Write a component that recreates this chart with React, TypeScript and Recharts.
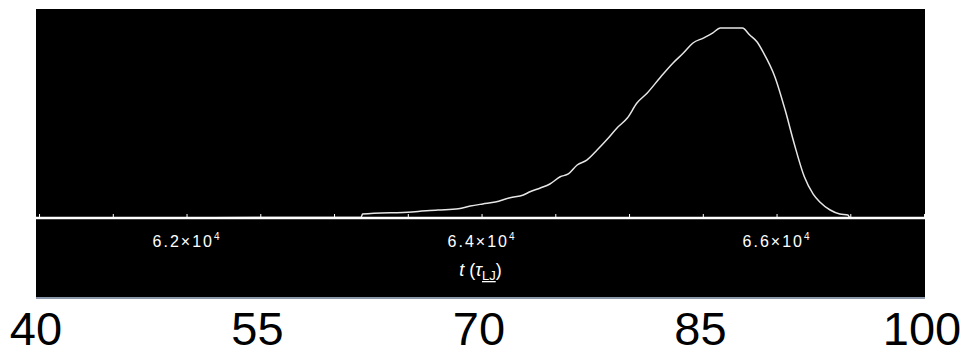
import React from 'react';
import { LineChart, Line, XAxis, YAxis } from 'recharts';

// time (tau_LJ) and normalised curve height
const TIMES = [
  61000, 63180, 63190, 63525, 63700, 63840, 63920, 64005, 64090, 64190,
  64280, 64325, 64395, 64460, 64530, 64585, 64645, 64710, 64780, 64850,
  64915, 64985, 65050, 65120, 65205, 65295, 65365, 65430, 65500, 65565,
  65615, 65765, 65815, 65865, 65905, 65985, 66055, 66115, 66185, 66245,
  66290, 66360, 66425, 66480, 66495, 67000,
];
const HEIGHTS = [
  0, 0.004, 0.021, 0.032, 0.042, 0.049, 0.063, 0.074, 0.084, 0.107,
  0.121, 0.138, 0.158, 0.179, 0.217, 0.232, 0.279, 0.305, 0.358, 0.416,
  0.474, 0.526, 0.605, 0.658, 0.737, 0.816, 0.868, 0.921, 0.947, 0.974,
  1.0, 1.0, 0.963, 0.926, 0.874, 0.744, 0.568, 0.395, 0.217, 0.126,
  0.084, 0.042, 0.021, 0.016, 0, 0,
];
const TIME_TICKS = [61000, 61500, 62000, 62500, 63000, 63500, 64000, 64500, 65000, 65500, 66000, 66500, 67000];
const PCT_TICKS = [40, 55, 70, 85, 100];

const data = TIMES.map((t, i) => ({ t, v: HEIGHTS[i] }));

const FONT = '"Liberation Sans", Arial, sans-serif';

function TimeTick(props: any) {
  const { x, y, payload } = props;
  const val = payload.value as number;
  if (val % 2000 !== 0) return null;
  return (
    <text x={x} y={y + 33} textAnchor="middle" fill="#fff" fontSize={16} fontFamily={FONT} letterSpacing={2}>
      {(val / 10000).toFixed(1)}×10
      <tspan dy={-7} fontSize={10}>4</tspan>
    </text>
  );
}

function TimeTitle(props: any) {
  const vb = props.viewBox || {};
  const cx = vb.x + vb.width / 2;
  return (
    <text x={cx} y={276} textAnchor="middle" fill="#fff" fontSize={18} fontFamily={FONT}>
      <tspan fontStyle="italic">t</tspan>
      <tspan> (</tspan>
      <tspan fontStyle="italic">τ</tspan>
      <tspan dy={4} fontSize={13} textDecoration="underline">LJ</tspan>
      <tspan dy={-4}>)</tspan>
    </text>
  );
}

export default function App() {
  return (
    <div style={{ position: 'absolute', left: 0, top: 0, width: 966, height: 356, background: '#fff' }}>
      <div style={{ position: 'absolute', left: 36, top: 9, width: 889, height: 289, background: '#000' }} />
      <div style={{ position: 'absolute', left: 0, top: 0 }}>
        <LineChart width={966} height={356} data={data} margin={{ top: 9, right: 41, left: 36, bottom: 0 }}>
          <XAxis
            xAxisId="b"
            dataKey="pct"
            type="number"
            domain={[40, 100]}
            allowDataOverflow
            ticks={PCT_TICKS}
            height={58}
            padding={{ left: 0, right: 3 }}
            axisLine={{ stroke: '#8b97ab', strokeWidth: 2 }}
            tickLine={false}
            tickSize={0}
            tickMargin={14}
            tick={{ fill: '#000', fontSize: 47, fontFamily: FONT }}
            interval={0}
          />
          <XAxis
            xAxisId="a"
            dataKey="t"
            type="number"
            domain={[60976, 67003]}
            allowDataOverflow
            ticks={TIME_TICKS}
            height={80}
            axisLine={{ stroke: '#fff', strokeWidth: 2.5 }}
            tickLine={{ stroke: '#fff', strokeWidth: 1 }}
            tickSize={-4}
            tickMargin={0}
            tick={<TimeTick />}
            label={(p: any) => <TimeTitle {...p} />}
          />
          <YAxis hide domain={[0, 1.1]} allowDataOverflow />
          <Line
            xAxisId="a"
            dataKey="v"
            type="monotone"
            stroke="#e6e6e6"
            strokeWidth={1.5}
            dot={false}
            isAnimationActive={false}
          />
        </LineChart>
      </div>
    </div>
  );
}
